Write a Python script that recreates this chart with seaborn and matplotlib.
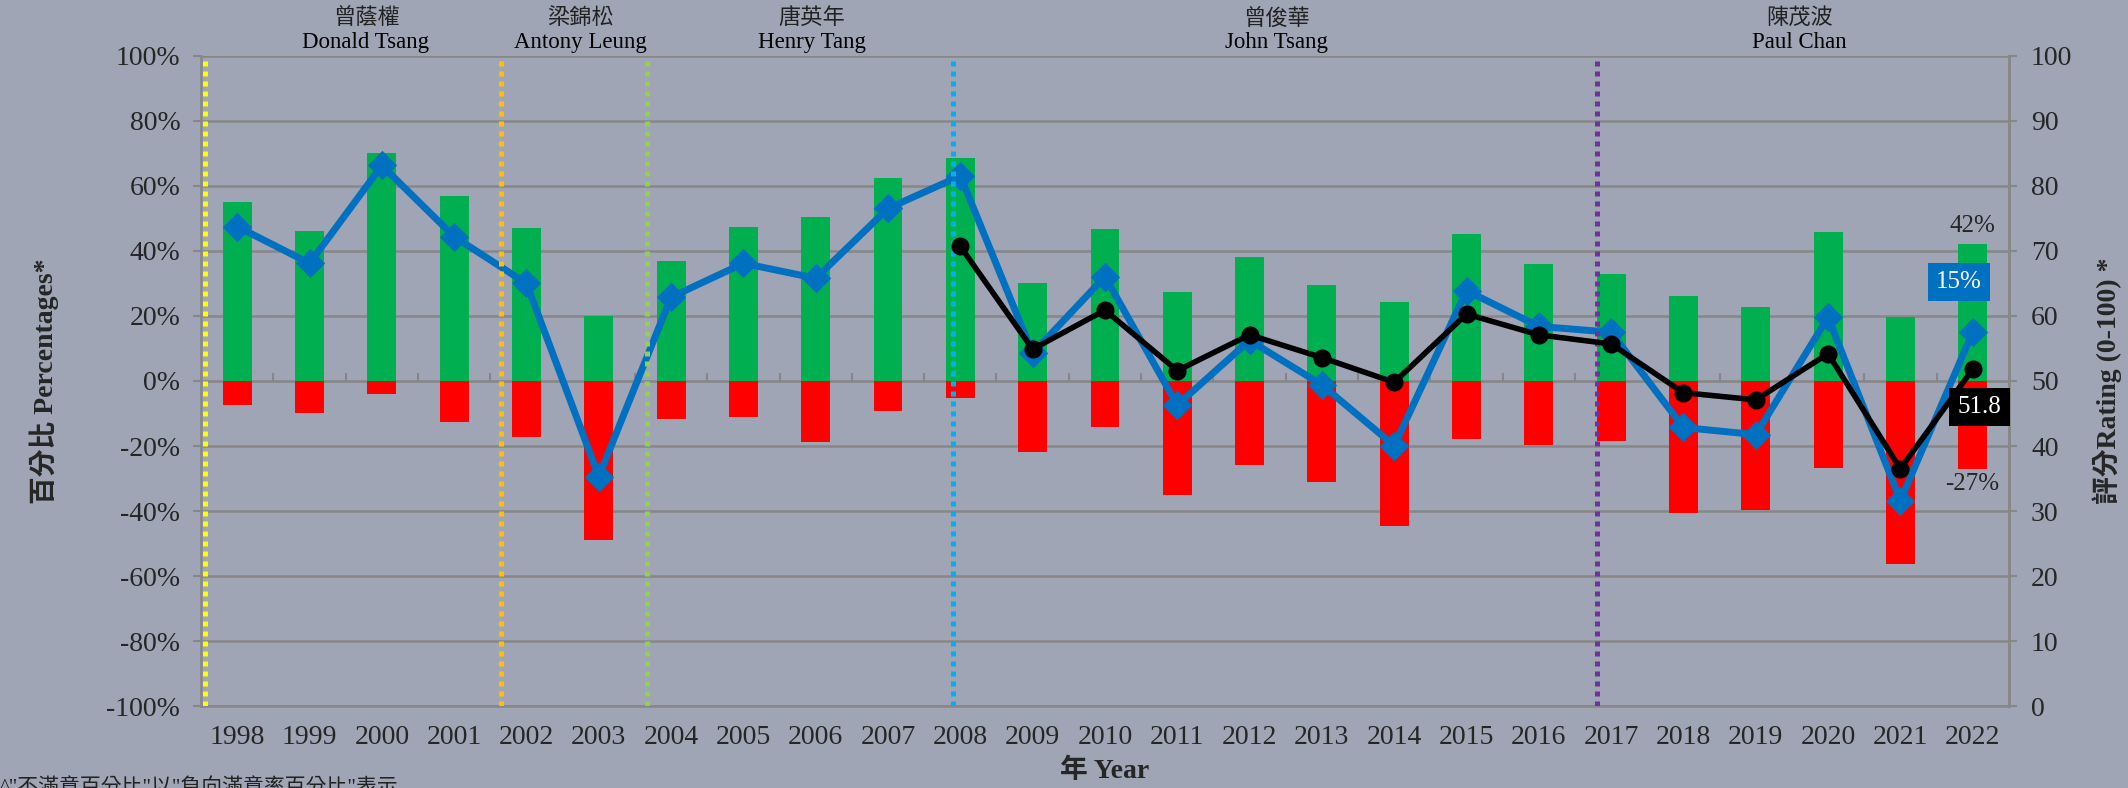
import numpy as np
import pandas as pd
import seaborn as sns
import matplotlib.pyplot as plt

sns.set_style("white")
plt.rcParams['font.family'] = ['Liberation Serif', 'Noto Sans CJK TC']

# Data
years = [str(y) for y in range(1998, 2023)]
satisfied = [55, 46, 70, 57, 47, 20, 37, 47.5, 50.3, 62.5, 68.5, 30.3, 46.7, 27.4, 38.2,
             29.5, 24.3, 45.3, 35.9, 33.0, 26.2, 22.9, 45.9, 19.6, 42]
dissatisfied = [-7.3, -9.8, -4, -12.7, -17.2, -49, -11.6, -11.1, -18.7, -9.2, -5.3, -21.9, -14.3,
                -35.1, -25.8, -31.2, -44.7, -17.8, -19.8, -18.6, -40.6, -39.6, -26.8, -56.3, -27]
net = [47.5, 36.2, 66.3, 44.4, 30.0, -29.4, 25.8, 36.2, 31.6, 53.1, 63.1, 8.5, 32.1, -7.4, 12.5,
       -1.2, -19.9, 27.8, 16.8, 15.0, -14.3, -16.5, 19.6, -36.8, 15]
rating = [np.nan] * 10 + [70.7, 54.9, 60.9, 51.6, 57.1, 53.6, 49.8, 60.3, 57.1, 55.7,
                          48.2, 47.1, 54.2, 36.5, 51.8]

# Terms of office (divider position on category axis, colour) and name labels
term_starts = [-0.45, 3.65, 5.67, 9.9, 18.8]
term_colors = ["#FFFF00", "#FFC000", "#92D050", "#00B0F0", "#7030A0"]
names_zh = ["曾蔭權", "梁錦松", "唐英年", "曾俊華", "陳茂波"]
names_en = ["Donald Tsang", "Antony Leung", "Henry Tang", "John Tsang", "Paul Chan"]
name_pos = [1.78, 4.75, 7.95, 14.37, 21.6]

df = pd.DataFrame({"year": years, "sat": satisfied, "dis": dissatisfied, "net": net, "rating": rating})

BG = "#A0A5B6"
GRID = "#878787"
fig = plt.figure(figsize=(21.28, 7.88), dpi=100, facecolor=BG)
ax = fig.add_axes([0.0945, 0.104, 0.8495, 0.825])
ax.set_facecolor(BG)

sns.barplot(data=df, x="year", y="sat", order=years, color="#00B050", saturation=1, width=0.4,
            linewidth=0, ax=ax, zorder=2)
sns.barplot(data=df, x="year", y="dis", order=years, color="#FF0000", saturation=1, width=0.4,
            linewidth=0, ax=ax, zorder=2)
sns.pointplot(data=df, x="year", y="net", order=years, color="#0070C0", markers="D", markersize=11,
              linewidth=5, errorbar=None, ax=ax, zorder=4)

ax.set_ylim(-100, 100)
ax.set_yticks(range(-100, 101, 20))
ax.set_yticklabels([f"{v}%" for v in range(-100, 101, 20)])
ax.set_xlim(-0.5, len(years) - 0.5)
ax.yaxis.grid(True, color=GRID, linewidth=1.8, zorder=0)
ax.set_axisbelow(True)
ax.tick_params(axis="y", direction="out", length=6, width=1.5, color=GRID, labelsize=20, pad=9)
ax.tick_params(axis="x", length=0, labelsize=20, pad=14)
for s in ["left", "bottom", "right"]:
    ax.spines[s].set_color(GRID)
    ax.spines[s].set_linewidth(1.8)
ax.spines["top"].set_visible(False)

# small boundary ticks on the 0% line
mid = ax.secondary_xaxis(0.5)
mid.set_xticks(np.arange(len(years) + 1) - 0.5, labels=[])
mid.tick_params(direction="out", length=6, width=1.5, color=GRID)
mid.spines["bottom"].set_color(GRID)
mid.spines["bottom"].set_linewidth(1.8)

ax.set_xlabel("年 Year", fontsize=20, fontweight="bold", labelpad=6)
ax.set_ylabel("百分比 Percentages*", fontsize=20, fontweight="bold", labelpad=34)

ax2 = ax.twinx()
for x, c in zip(term_starts, term_colors):
    ax2.axvline(x, color=c, linestyle=(0, (1, 1)), linewidth=3.6, zorder=3)
sns.pointplot(data=df, x="year", y="rating", order=years, color="black", markers="o", markersize=10,
              linewidth=4, errorbar=None, ax=ax2, zorder=5)
ax2.set_ylim(0, 100)
ax2.set_yticks(range(0, 101, 10))
ax2.set_xlim(-0.5, len(years) - 0.5)
ax2.tick_params(axis="y", direction="out", length=6, width=1.5, color=GRID, labelsize=20, pad=10)
for s in ["top", "left", "bottom"]:
    ax2.spines[s].set_visible(False)
ax2.spines["right"].set_color(GRID)
ax2.spines["right"].set_linewidth(1.8)
ax2.set_ylabel("評分Rating (0-100) *", fontsize=20, fontweight="bold", labelpad=14)
ax2.set_xlabel("")

# names of financial secretaries above the plot
tr = ax.get_xaxis_transform()
for x, zh, en in zip(name_pos, names_zh, names_en):
    ax.text(x, 1.057, zh, transform=tr, ha="center", va="center", fontsize=16, color="#222222")
    ax.text(x, 1.02, en, transform=tr, ha="center", va="center", fontsize=16.5, color="black")

# latest-year labels
last = len(years) - 1
ax.annotate(f"{satisfied[-1]:.0f}%", (last, satisfied[-1]), xytext=(0, 13), textcoords="offset points",
            ha="center", va="center", fontsize=18)
ax.annotate(f"{dissatisfied[-1]:.0f}%", (last, dissatisfied[-1]), xytext=(0, -11), textcoords="offset points",
            ha="center", va="center", fontsize=18)
ax.annotate(f"{net[-1]:.0f}%", (last, net[-1]), xytext=(-10, 36), textcoords="offset points",
            ha="center", va="center", fontsize=18, color="white",
            bbox=dict(facecolor="#0070C0", edgecolor="none", pad=6), zorder=6)
ax2.annotate(f"{rating[-1]:.1f}", (last, rating[-1]), xytext=(5, -27), textcoords="offset points",
             ha="center", va="center", fontsize=18, color="white",
             bbox=dict(facecolor="black", edgecolor="none", pad=6), zorder=6)

fig.text(0.0, 10 / 788, '^"不滿意百分比"以"負向滿意率百分比"表示', ha="left", va="top", fontsize=15, color="#222222")

fig.savefig("out.png", dpi=100, facecolor=BG)
